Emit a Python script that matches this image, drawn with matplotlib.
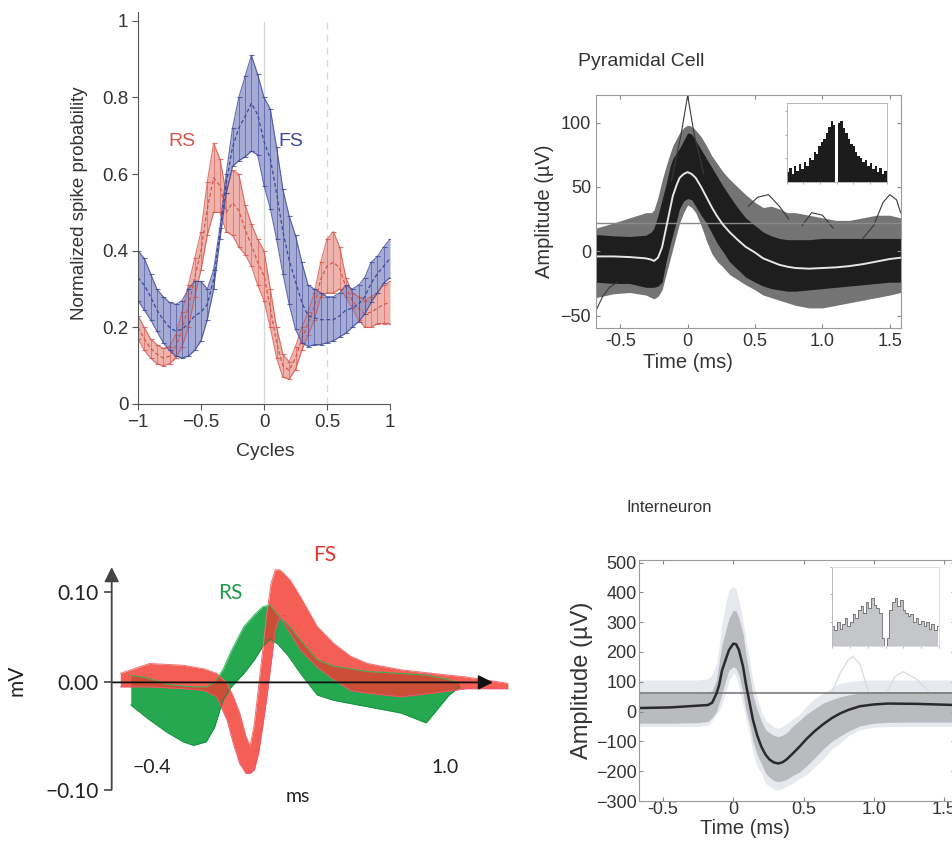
import matplotlib.pyplot as plt
import numpy as np

plt.rcParams['font.family'] = ['Liberation Sans', 'DejaVu Sans']

# ---------------- panel A: normalized spike probability vs cycles
cycles = np.round(np.arange(-1, 1.0001, 0.05), 2)
fs_upper = [0.40, 0.38, 0.34, 0.30, 0.28, 0.265, 0.26, 0.27, 0.30, 0.32, 0.32,
            0.30, 0.35, 0.46, 0.60, 0.72, 0.80, 0.855, 0.91, 0.86, 0.80, 0.77,
            0.67, 0.56, 0.49, 0.44, 0.37, 0.31, 0.30, 0.29, 0.28, 0.28, 0.29,
            0.31, 0.30, 0.31, 0.33, 0.37, 0.385, 0.41, 0.43]
fs_lower = [0.27, 0.245, 0.22, 0.19, 0.16, 0.14, 0.125, 0.12, 0.125, 0.14, 0.165,
            0.22, 0.30, 0.43, 0.55, 0.62, 0.635, 0.645, 0.66, 0.65, 0.57, 0.51,
            0.43, 0.34, 0.26, 0.195, 0.16, 0.15, 0.155, 0.155, 0.16, 0.165, 0.175,
            0.185, 0.20, 0.215, 0.235, 0.265, 0.29, 0.315, 0.33]
fs_mean = [0.33, 0.31, 0.28, 0.245, 0.22, 0.20, 0.19, 0.195, 0.21, 0.23, 0.24,
           0.26, 0.325, 0.445, 0.575, 0.67, 0.72, 0.75, 0.785, 0.755, 0.685, 0.64,
           0.55, 0.45, 0.375, 0.32, 0.265, 0.23, 0.225, 0.22, 0.22, 0.22, 0.23,
           0.245, 0.25, 0.26, 0.28, 0.315, 0.34, 0.36, 0.38]
rs_upper = [0.23, 0.20, 0.17, 0.155, 0.145, 0.15, 0.18, 0.24, 0.31, 0.38, 0.45,
            0.58, 0.68, 0.64, 0.55, 0.61, 0.60, 0.52, 0.47, 0.43, 0.40, 0.30,
            0.20, 0.13, 0.11, 0.15, 0.20, 0.24, 0.29, 0.37, 0.43, 0.45, 0.41,
            0.33, 0.29, 0.28, 0.27, 0.28, 0.29, 0.31, 0.32]
rs_lower = [0.17, 0.14, 0.12, 0.105, 0.10, 0.105, 0.12, 0.15, 0.20, 0.28, 0.35,
            0.44, 0.50, 0.50, 0.45, 0.44, 0.41, 0.39, 0.36, 0.31, 0.27, 0.20,
            0.12, 0.07, 0.065, 0.09, 0.14, 0.18, 0.22, 0.28, 0.29, 0.29, 0.30,
            0.28, 0.25, 0.22, 0.20, 0.20, 0.21, 0.21, 0.21]
rs_mean = [0.20, 0.17, 0.145, 0.13, 0.12, 0.125, 0.15, 0.195, 0.255, 0.33, 0.40,
           0.51, 0.59, 0.57, 0.50, 0.525, 0.505, 0.455, 0.415, 0.37, 0.335, 0.25,
           0.16, 0.10, 0.088, 0.12, 0.17, 0.21, 0.255, 0.325, 0.36, 0.37, 0.355,
           0.305, 0.27, 0.25, 0.235, 0.24, 0.25, 0.26, 0.265]

b_time = [-0.68, -0.55, -0.43, -0.31, -0.27, -0.25, -0.22, -0.19, -0.16, -0.13,
          -0.11, -0.08, -0.06, -0.03, 0, 0.03, 0.06, 0.1, 0.14, 0.18,
          0.22, 0.26, 0.31, 0.37, 0.43, 0.5, 0.56, 0.62, 0.68, 0.74,
          0.8, 0.9, 1.0, 1.1, 1.2, 1.3, 1.4, 1.5, 1.58]
b_mean = [-4, -4, -4.5, -5.5, -6.5, -7.5, -5, 3, 18, 33,
          43, 52, 57, 60, 61.5, 60, 57, 50, 42, 34,
          27, 21, 15, 9, 3.5, -1, -5.5, -8, -10.5, -12,
          -13, -13.5, -13, -12.5, -11.5, -10, -8, -6, -5]
b_core_up = [13, 12, 11.5, 12.5, 15, 18, 28, 40, 52, 66,
             72, 77, 80, 86, 92, 91, 86, 79, 72, 65,
             58, 51, 43, 34, 26, 20, 15, 12, 10, 9,
             9, 9, 10, 10, 10, 10, 10, 10, 10]
b_core_lo = [-24, -25, -25, -28, -28, -28, -27, -24, -8, 5,
             13, 25, 33, 39, 41, 40, 35, 28, 22, 14,
             6, 0, -8, -14, -20, -24, -27, -29, -30, -31,
             -31, -30, -29, -28, -27, -26, -25, -24, -24]
b_outer_up = [18, 22, 26, 30, 30, 32, 42, 55, 66, 76,
              82, 88, 92, 96, 98, 97, 94, 89, 82, 74,
              68, 62, 56, 50, 44, 38, 34, 35, 33, 30,
              30, 28, 26, 24, 24, 26, 28, 28, 26]
b_outer_lo = [-36, -33, -32, -34, -36, -37, -35, -30, -18, -6,
              2, 14, 22, 30, 36, 34, 30, 20, 8, -2,
              -8, -12, -18, -22, -26, -30, -34, -36, -38, -40,
              -42, -44, -44, -42, -40, -38, -36, -34, -32]
b_outliers = [
    ([-0.12, -0.05, 0.0, 0.05, 0.12], [55, 90, 121, 90, 60]),
    ([1.3, 1.38, 1.45, 1.5, 1.55, 1.58], [10, 20, 38, 44, 40, 30]),
    ([0.45, 0.52, 0.6, 0.68, 0.75], [35, 42, 44, 35, 25]),
    ([0.85, 0.92, 1.0, 1.08], [20, 30, 28, 18]),
    ([-0.68, -0.63, -0.58, -0.52], [-46, -35, -28, -24]),
]
b_threshold = 22
b_hist = [0.12, 0.18, 0.10, 0.20, 0.14, 0.22, 0.16, 0.25, 0.20, 0.30, 0.28, 0.38,
          0.35, 0.45, 0.50, 0.55, 0.62, 0.70, 0.78, 0.72, 0.0, 0.75, 0.78, 0.68,
          0.62, 0.55, 0.48, 0.46, 0.38, 0.33, 0.30, 0.25, 0.28, 0.20, 0.24, 0.16,
          0.20, 0.12, 0.18, 0.10, 0.14]

# ---------------- panel C: RS / FS overlaid waveforms (mV vs ms)
rs_t = [-0.50, -0.42, -0.33, -0.25, -0.20, -0.14, -0.10, -0.06, -0.02, 0.04, 0.09,
        0.13, 0.165, 0.20, 0.25, 0.31, 0.39, 0.47, 0.63, 0.79, 0.91, 1.02, 1.07]
rs_up = [0.008, 0.005, -0.002, -0.004, -0.005, -0.005, 0.000, 0.014, 0.035, 0.062,
         0.075, 0.084, 0.086, 0.075, 0.064, 0.047, 0.025, 0.018, 0.012, 0.010,
         0.008, 0.003, -0.001]
rs_lo = [-0.025, -0.040, -0.055, -0.066, -0.070, -0.066, -0.050, -0.020, -0.005,
         0.010, 0.025, 0.040, 0.048, 0.043, 0.030, 0.010, -0.014, -0.020, -0.027,
         -0.034, -0.045, -0.014, -0.005]
fs_t = [-0.55, -0.41, -0.25, -0.15, -0.09, -0.04, -0.01, 0.02, 0.05, 0.07, 0.09,
        0.11, 0.13, 0.15, 0.17, 0.19, 0.21, 0.23, 0.26, 0.31, 0.39, 0.47, 0.55,
        0.63, 0.79, 0.94, 1.10, 1.30]
fs_up = [0.010, 0.021, 0.019, 0.015, 0.010, -0.001, -0.016, -0.034, -0.060, -0.071,
         -0.046, -0.005, 0.036, 0.077, 0.110, 0.125, 0.125, 0.121, 0.114, 0.095,
         0.062, 0.043, 0.029, 0.021, 0.014, 0.010, 0.006, -0.001]
fs_lo = [-0.005, -0.005, -0.007, -0.009, -0.016, -0.042, -0.068, -0.090, -0.101,
         -0.101, -0.097, -0.079, -0.049, -0.016, 0.021, 0.058, 0.073, 0.066, 0.055,
         0.036, 0.017, 0.003, -0.009, -0.012, -0.016, -0.012, -0.007, -0.007]

# ---------------- panel D: interneuron waveforms
d_time = [-0.67, -0.45, -0.25, -0.18, -0.15, -0.12, -0.1, -0.08, -0.05, -0.03,
          0, 0.02, 0.04, 0.07, 0.09, 0.12, 0.14, 0.17, 0.2, 0.23,
          0.26, 0.29, 0.32, 0.35, 0.38, 0.42, 0.47, 0.52, 0.58, 0.64,
          0.7, 0.76, 0.82, 0.9, 1.0, 1.1, 1.3, 1.58]
d_mean = [12, 14, 20, 22, 30, 60, 90, 138, 180, 207,
          228, 226, 207, 150, 92, 20, -28, -80, -118, -145,
          -162, -171, -174, -170, -160, -142, -118, -92, -65, -42,
          -22, -6, 6, 18, 24, 27, 26, 22]
d_band_up = [62, 62, 62, 64, 70, 105, 165, 225, 280, 314,
             340, 338, 314, 260, 190, 110, 55, 5, -32, -61,
             -72, -80, -84, -79, -71, -50, -30, -9, 10, 29,
             40, 50, 56, 63, 67, 67, 67, 67]
d_band_lo = [-39, -39, -37, -33, -20, 0, 30, 60, 110, 140,
             150, 145, 123, 60, 5, -50, -100, -145, -175, -207,
             -222, -232, -235, -232, -227, -215, -203, -183, -155, -125,
             -100, -82, -65, -48, -39, -36, -35, -35]
d_outer_up = [106, 106, 106, 110, 125, 160, 220, 300, 370, 409,
              420, 410, 375, 300, 240, 160, 100, 45, 0, -28,
              -42, -52, -56, -50, -40, -25, -10, 18, 45, 62,
              80, 95, 100, 105, 106, 106, 106, 106]
d_outer_lo = [-50, -50, -50, -45, -30, -10, 5, 25, 70, 106,
              129, 120, 84, 20, -28, -85, -140, -185, -207, -241,
              -252, -260, -263, -258, -250, -241, -225, -212, -185, -160,
              -125, -106, -80, -61, -52, -50, -50, -50]
d_arcs = [
    ([0.70, 0.76, 0.82, 0.85, 0.90, 0.965], [62, 130, 175, 185, 160, 62]),
    ([1.09, 1.15, 1.21, 1.30, 1.40], [62, 118, 134, 110, 62]),
]
d_threshold = 64
d_hist = [0.25, 0.20, 0.30, 0.22, 0.28, 0.35, 0.25, 0.30, 0.40, 0.35, 0.45, 0.50,
          0.42, 0.55, 0.48, 0.60, 0.52, 0.48, 0.42, 0.10, 0.0, 0.10, 0.45, 0.55,
          0.60, 0.50, 0.58, 0.45, 0.42, 0.38, 0.40, 0.30, 0.35, 0.28, 0.32, 0.25,
          0.30, 0.22, 0.28, 0.20, 0.25]

W, H = 952, 841
fig = plt.figure(figsize=(W / 100, H / 100), dpi=100)


def box(l, t, r, b):
    return [l / W, 1 - b / H, (r - l) / W, (b - t) / H]


# ======== A
axA = fig.add_axes(box(138, 12, 390, 404))
blue_fill, blue_dark = '#8e96cb', '#3b4898'
red_fill, red_dark = '#eaa097', '#d6564c'
for up, lo, mn, fc, ec in [(rs_upper, rs_lower, rs_mean, red_fill, red_dark),
                           (fs_upper, fs_lower, fs_mean, blue_fill, blue_dark)]:
    up, lo, mn = np.array(up), np.array(lo), np.array(mn)
    axA.fill_between(cycles, lo, up, color=fc, alpha=0.8, lw=0)
    axA.errorbar(cycles, mn, yerr=[mn - lo, up - mn], fmt='none', ecolor=ec,
                 elinewidth=0.5, capsize=1.8, capthick=0.8, alpha=0.8)
    axA.plot(cycles, up, color=ec, lw=0.8, alpha=0.8)
    axA.plot(cycles, lo, color=ec, lw=0.8, alpha=0.8)
    axA.plot(cycles, mn, color=ec, lw=0.9, ls=(0, (3, 2)))
axA.axvline(0, ymax=0.975, color='#d8d8d8', lw=1.0, zorder=0)
axA.axvline(0.5, ymax=0.975, color='#d8d8d8', lw=1.0, ls=(0, (5, 4)), zorder=0)
axA.set_xlim(-1, 1)
axA.set_ylim(0, 1.023)
axA.set_xticks([-1, -0.5, 0, 0.5, 1])
axA.set_xticklabels(['\u22121', '\u22120.5', '0', '0.5', '1'])
axA.set_yticks([0, 0.2, 0.4, 0.6, 0.8, 1])
axA.set_yticklabels(['0', '0.2', '0.4', '0.6', '0.8', '1'])
for s in ['top', 'right']:
    axA.spines[s].set_visible(False)
for s in ['left', 'bottom']:
    axA.spines[s].set_color('#555555')
axA.tick_params(direction='out', length=4, pad=3, color='#555555', labelsize=13.5,
                labelcolor='#333333')
axA.text(-0.65, 0.684, 'RS', color=red_dark, fontsize=14, ha='center', va='center')
axA.text(0.214, 0.684, 'FS', color=blue_dark, fontsize=14, ha='center', va='center')
fig.text(80 / W, 1 - 203 / H, 'Normalized spike probability', rotation=90,
         ha='center', va='center', fontsize=13.5, color='#333333')
fig.text(265 / W, 1 - 452 / H, 'Cycles', ha='center', va='center', fontsize=14,
         color='#333333')

# ======== B
axB = fig.add_axes(box(596, 95, 901, 328))
axB.fill_between(b_time, b_outer_lo, b_outer_up, color='#747474', lw=0)
axB.fill_between(b_time, b_core_lo, b_core_up, color='#1e1e1e', lw=0)
for tt, vv in b_outliers:
    axB.plot(tt, vv, color='#3a3a3a', lw=0.8)
axB.axhline(b_threshold, color='#8a8a8a', lw=1.0)
axB.plot(b_time, b_mean, color='#e6e6e6', lw=1.4)
axB.set_xlim(-0.68, 1.583)
axB.set_ylim(-59.6, 121.4)
axB.set_xticks([-0.5, 0, 0.5, 1.0, 1.5])
axB.set_xticklabels(['-0.5', '0', '0.5', '1.0', '1.5'])
axB.set_yticks([-50, 0, 50, 100])
axB.tick_params(direction='in', length=3, top=True, right=True, labelsize=13,
                color='#888888', labelcolor='#333333')
for s in axB.spines.values():
    s.set_color('#9a9a9a')
fig.text(578 / W, 1 - 62 / H, 'Pyramidal Cell', ha='left', va='center',
         fontsize=14, color='#333333')
fig.text(688 / W, 1 - 362 / H, 'Time (ms)', ha='center', va='center',
         fontsize=14.5, color='#333333')
fig.text(545 / W, 1 - 211 / H, 'Amplitude (\u00b5V)', rotation=90, ha='center',
         va='center', fontsize=14.5, color='#333333')

axBi = fig.add_axes(box(786.7, 103.3, 886.7, 181.7))
axBi.bar(np.arange(len(b_hist)), b_hist, width=1.0, color='#1c1c1c', lw=0)
axBi.set_xlim(-0.5, len(b_hist) - 0.5)
axBi.set_ylim(0, 1)
axBi.set_xticks(np.linspace(-0.5, len(b_hist) - 0.5, 7))
axBi.set_yticks([0.3, 0.6, 0.9])
axBi.tick_params(direction='out', length=1.5, labelbottom=False, labelleft=False,
                 color='#888888', width=0.5)
for s in axBi.spines.values():
    s.set_color('#aaaaaa')
    s.set_linewidth(0.6)

# ======== C
lato = ['Lato', 'DejaVu Sans']
axC = fig.add_axes(box(111.7, 560, 530, 800))
axC.fill_between(rs_t, rs_lo, rs_up, color='#1aa448', lw=0, alpha=0.95)
axC.plot(rs_t, rs_up, color='#2fb85a', lw=0.7)
axC.plot(rs_t, rs_lo, color='#13933d', lw=0.7)
axC.fill_between(fs_t, fs_lo, fs_up, color='#f23a30', lw=0, alpha=0.82)
axC.plot(fs_t, fs_up, color='#f07070', lw=0.7)
axC.plot(fs_t, fs_lo, color='#e85a70', lw=0.7)
axC.annotate('', xy=(1.229, 0), xytext=(-0.591, 0),
             arrowprops=dict(arrowstyle='-|>', color='#111111', lw=1.3,
                             mutation_scale=22, shrinkA=0, shrinkB=0))
axC.annotate('', xy=(-0.591, 0.128), xytext=(-0.591, -0.119),
             arrowprops=dict(arrowstyle='-|>', color='#444444', lw=1.3,
                             mutation_scale=22, shrinkA=0, shrinkB=0))
axC.set_xlim(-0.591, 1.406)
axC.set_ylim(-0.1306, 0.1359)
for s in axC.spines.values():
    s.set_visible(False)
axC.set_xticks([])
axC.set_yticks([0.10, 0.0, -0.119])
axC.set_yticklabels(['0.10', '0.00', '\u22120.10'], family=lato)
axC.tick_params(axis='y', direction='out', length=6, width=1.2, color='#444444',
                labelsize=15, labelcolor='#222222')
axC.text(-0.40, -0.095, '\u22120.4', ha='center', va='center', fontsize=14,
         color='#222222', family=lato)
axC.text(1.0, -0.094, '1.0', ha='center', va='center', fontsize=14,
         color='#222222', family=lato)
axC.text(0.298, -0.127, 'ms', ha='center', va='center', fontsize=14,
         color='#222222', family=lato)
axC.text(-0.026, 0.099, 'RS', ha='center', va='center', fontsize=15,
         color='#1f9a4c', family=lato)
axC.text(0.427, 0.141, 'FS', ha='center', va='center', fontsize=15,
         color='#e8322c', family=lato)
fig.text(17 / W, 1 - 680 / H, 'mV', rotation=90, ha='center', va='center',
         fontsize=15, color='#222222', family=lato)

# ======== D
axD = fig.add_axes(box(639.3, 560, 955, 801))
axD.fill_between(d_time, d_outer_lo, d_outer_up, color='#e6e9ee', lw=0)
for tt, vv in d_arcs:
    axD.plot(tt, vv, color='#d6dbe3', lw=0.9)
axD.fill_between(d_time, d_band_lo, d_band_up, color='#b9bbbe', lw=0)
axD.axhline(d_threshold, color='#7a7a7a', lw=1.2)
axD.plot(d_time, d_mean, color='#2a2a2a', lw=1.8)
axD.set_xlim(-0.668, 1.576)
axD.set_ylim(-300, 508.7)
axD.set_xticks([-0.5, 0, 0.5, 1.0, 1.5])
axD.set_xticklabels(['-0.5', '0', '0.5', '1.0', '1.5'])
axD.set_yticks(range(-300, 501, 100))
axD.tick_params(direction='in', length=3, top=True, right=True, labelsize=13,
                color='#888888', labelcolor='#333333')
axD.tick_params(axis='x', pad=0)
axD.tick_params(axis='y', pad=2)
for s in axD.spines.values():
    s.set_color('#9a9a9a')
fig.text(627 / W, 1 - 508 / H, 'Interneuron', ha='left', va='center',
         fontsize=12, color='#333333')
fig.text(745 / W, 1 - 829 / H, 'Time (ms)', ha='center', va='center',
         fontsize=14.5, color='#333333')
fig.text(582 / W, 1 - 680 / H, 'Amplitude (\u00b5V)', rotation=90, ha='center',
         va='center', fontsize=17, color='#333333')

axDi = fig.add_axes(box(831.7, 566.7, 939.3, 646))
axDi.fill_between(np.arange(len(d_hist)), 0, d_hist, step='mid', color='#c4c6ca',
                  lw=0)
axDi.step(np.arange(len(d_hist)), d_hist, where='mid', color='#6a6a6a', lw=0.6)
axDi.set_xlim(-0.5, len(d_hist) - 0.5)
axDi.set_ylim(0, 1)
axDi.set_xticks(np.linspace(-0.5, len(d_hist) - 0.5, 7))
axDi.set_yticks([0.3, 0.65, 1.0])
axDi.tick_params(direction='out', length=1.5, labelbottom=False, labelleft=False,
                 color='#999999', width=0.5)
for s in axDi.spines.values():
    s.set_color('#d8d8d8')
    s.set_linewidth(0.6)
axDi.spines['left'].set_color('#aaaaaa')
axDi.patch.set_alpha(0.0)

fig.savefig('out.png', dpi=100)
